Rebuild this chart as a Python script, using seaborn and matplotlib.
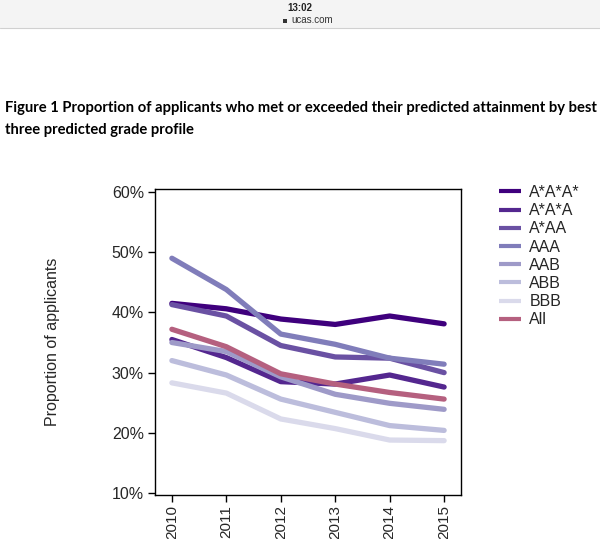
import matplotlib
matplotlib.use("Agg")
import matplotlib.pyplot as plt
import matplotlib.patches as mpatches
import matplotlib.ticker as mticker
import seaborn as sns
import pandas as pd

years = [2010, 2011, 2012, 2013, 2014, 2015]
grades = ["A*A*A*", "A*A*A", "A*AA", "AAA", "AAB", "ABB", "BBB", "All"]
v_astar3 = [41.5, 40.6, 38.9, 38.0, 39.4, 38.1]
v_astar2a = [35.5, 32.5, 28.5, 28.1, 29.6, 27.6]
v_astaraa = [41.3, 39.4, 34.5, 32.6, 32.4, 30.0]
v_aaa = [49.0, 43.8, 36.4, 34.7, 32.4, 31.4]
v_aab = [35.0, 33.5, 29.3, 26.4, 24.9, 23.9]
v_abb = [32.0, 29.6, 25.6, 23.4, 21.2, 20.4]
v_bbb = [28.3, 26.6, 22.3, 20.7, 18.8, 18.7]
v_all = [37.2, 34.3, 29.8, 28.1, 26.7, 25.6]
series = [v_astar3, v_astar2a, v_astaraa, v_aaa, v_aab, v_abb, v_bbb, v_all]
colors = ["#3f007d", "#54278f", "#6a51a3", "#807dba", "#9e9ac8", "#bcbddc", "#dadaeb", "#b5607f"]

rows = []
for g, vals in zip(grades, series):
    for y, v in zip(years, vals):
        rows.append({"year": y, "grade": g, "value": v})
df = pd.DataFrame(rows)

sns.set_theme(style="white")
plt.rcParams["font.family"] = ["Liberation Sans", "DejaVu Sans"]

fig = plt.figure(figsize=(6.0, 5.39), dpi=100)
fig.patch.set_facecolor("white")

# status bar
fig.patches.append(mpatches.Rectangle((0, 1 - 28 / 539), 1, 28 / 539, transform=fig.transFigure,
                                      facecolor="#f4f4f4", edgecolor="none", zorder=0))
fig.lines.append(matplotlib.lines.Line2D([0, 1], [1 - 28 / 539] * 2, transform=fig.transFigure,
                                         color="#d0d0d0", lw=0.8))
fig.text(0.5, 1 - 8 / 539, "13:02", ha="center", va="center", fontsize=7, fontweight="bold", color="#222222")
fig.text(291 / 600, 1 - 20 / 539, "ucas.com", ha="left", va="center", fontsize=7, color="#333333")
fig.patches.append(mpatches.Rectangle((283 / 600, 1 - 23 / 539), 4 / 600, 4 / 539, transform=fig.transFigure,
                                      facecolor="#333333", edgecolor="none"))

# title
fig.text(5 / 600, 1 - 108 / 539, "Figure 1 Proportion of applicants who met or exceeded their predicted attainment by best",
         ha="left", va="center", fontsize=10.6, fontweight="bold", family=["Lato", "DejaVu Sans"], color="black")
fig.text(5 / 600, 1 - 130 / 539, "three predicted grade profile",
         ha="left", va="center", fontsize=10.6, fontweight="bold", family=["Lato", "DejaVu Sans"], color="black")

ax = fig.add_axes([155 / 600, 1 - 495 / 539, 306 / 600, 306 / 539])
sns.lineplot(data=df, x="year", y="value", hue="grade", hue_order=grades,
             palette=dict(zip(grades, colors)), linewidth=3.8, ax=ax, legend=True)
for ln in ax.lines:
    ln.set_solid_capstyle("round")

ax.set_xlim(2009.69, 2015.31)
ax.set_ylim(9.67, 60.5)
ax.set_xticks(years)
ax.set_xticklabels([str(y) for y in years], rotation=90)
ax.set_yticks([10, 20, 30, 40, 50, 60])
ax.yaxis.set_major_formatter(mticker.FuncFormatter(lambda v, p: f"{int(v)}%"))
ax.set_xlabel("")
ax.set_ylabel("Proportion of applicants", fontsize=11.5, labelpad=37)
ax.tick_params(axis="y", which="major", labelsize=11.5, length=5, width=1, color="black",
               direction="out", left=True, pad=3)
ax.tick_params(axis="x", which="major", labelsize=11, length=5, width=1, color="black",
               direction="out", bottom=True, pad=2)
for s in ax.spines.values():
    s.set_color("black")
    s.set_linewidth(1.0)
    s.set_visible(True)

handles, labels = ax.get_legend_handles_labels()
leg = ax.legend(handles, labels, loc="upper left", bbox_to_anchor=(491 / 600, 1 - 177 / 539),
                bbox_transform=fig.transFigure, frameon=False, fontsize=11.5, handlelength=1.4,
                handletextpad=0.5, labelspacing=0.2, borderpad=0)
for h in leg.get_lines():
    h.set_linewidth(3.0)
    h.set_solid_capstyle("butt")

fig.savefig("out.png", dpi=100)
